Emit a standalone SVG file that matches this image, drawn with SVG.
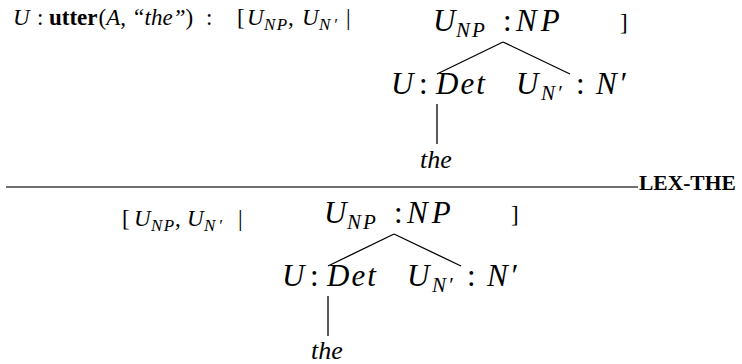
<svg xmlns="http://www.w3.org/2000/svg" width="742" height="364" viewBox="0 0 742 364">
<style>
text{font-family:Liberation Serif,Times New Roman,Times,Tinos,DejaVu Serif,Noto Serif,serif;fill:#000}
.m{font-style:italic;font-size:31px;letter-spacing:2px}
.w{letter-spacing:4px}
.s{font-style:italic;font-size:21px;letter-spacing:2px}
.r{font-style:normal;letter-spacing:0}
.t{font-size:23px}
.ms{font-style:italic;font-size:23px}
.ss{font-style:italic;font-size:17px;letter-spacing:1.5px}
.sw{letter-spacing:3px}
.b{font-weight:bold}
.i{font-style:italic}
.lex{font-weight:bold;font-size:21.5px}
.edge{stroke:#000;stroke-width:1.3;fill:none}
.rule{stroke:#707070;stroke-width:2.2}
</style>
<rect width="742" height="364" fill="#fff"/>

<g id="premise-label">
<text class="t" y="25"><tspan x="13" class="i">U</tspan><tspan x="37">:</tspan><tspan x="49" class="b">utter</tspan><tspan dx="1">(</tspan><tspan class="i">A</tspan>, <tspan class="i">“the”</tspan>)<tspan x="206">:</tspan><tspan x="237">[</tspan></text>
<text y="25"><tspan x="247" class="ms">U</tspan><tspan x="264" y="30" class="ss">NP</tspan><tspan x="288" y="25" class="t">,</tspan><tspan x="302" class="ms">U</tspan><tspan x="319" y="30" class="ss sw">N′</tspan><tspan x="346" y="25" class="t">|</tspan></text>
</g>

<g id="top-np">
<text y="31"><tspan x="433" class="m">U</tspan><tspan x="456" y="37" class="s">NP</tspan><tspan x="503" y="31" class="m r">:</tspan><tspan x="516" class="m w">NP</tspan></text>
<text x="620" y="30" class="t">]</text>
</g>
<g id="top-det">
<text y="94"><tspan x="391" class="m">U</tspan><tspan x="419" class="m r">:</tspan><tspan x="436" class="m">Det</tspan></text>
</g>
<g id="top-nbar">
<text y="94"><tspan x="516" class="m">U</tspan><tspan x="541" y="100" class="s">N′</tspan><tspan x="576" y="94" class="m r">:</tspan><tspan x="596" class="m">N′</tspan></text>
</g>
<g id="top-the">
<text x="420" y="168" class="i" font-size="26">the</text>
</g>

<g id="rule">
<line class="rule" x1="6" y1="187" x2="638" y2="187"/>
<text x="639" y="190" class="lex">LEX-THE</text>
</g>

<g id="conclusion-label">
<text y="226"><tspan x="122" class="t">[</tspan><tspan x="134" class="ms">U</tspan><tspan x="151" y="231" class="ss">NP</tspan><tspan x="175" y="226" class="t">,</tspan><tspan x="187" class="ms">U</tspan><tspan x="204" y="231" class="ss sw">N′</tspan><tspan x="238" y="226" class="t">|</tspan></text>
</g>
<g id="bot-np">
<text y="223"><tspan x="324" class="m">U</tspan><tspan x="347" y="229" class="s">NP</tspan><tspan x="394" y="223" class="m r">:</tspan><tspan x="407" class="m w">NP</tspan></text>
<text x="511" y="222" class="t">]</text>
</g>
<g id="bot-det">
<text y="286"><tspan x="282" class="m">U</tspan><tspan x="310" class="m r">:</tspan><tspan x="327" class="m">Det</tspan></text>
</g>
<g id="bot-nbar">
<text y="286"><tspan x="407" class="m">U</tspan><tspan x="432" y="292" class="s">N′</tspan><tspan x="467" y="286" class="m r">:</tspan><tspan x="487" class="m">N′</tspan></text>
</g>
<g id="bot-the">
<text x="311" y="359" class="i" font-size="26">the</text>
</g>

<g id="connectors">
<line class="edge" x1="503" y1="42" x2="437" y2="74"/>
<line class="edge" x1="503" y1="42" x2="570" y2="74"/>
<line class="edge" x1="437" y1="104" x2="437" y2="144"/>
<line class="edge" x1="394" y1="234" x2="328" y2="266"/>
<line class="edge" x1="394" y1="234" x2="461" y2="266"/>
<line class="edge" x1="328" y1="296" x2="328" y2="336"/>
</g>
</svg>
